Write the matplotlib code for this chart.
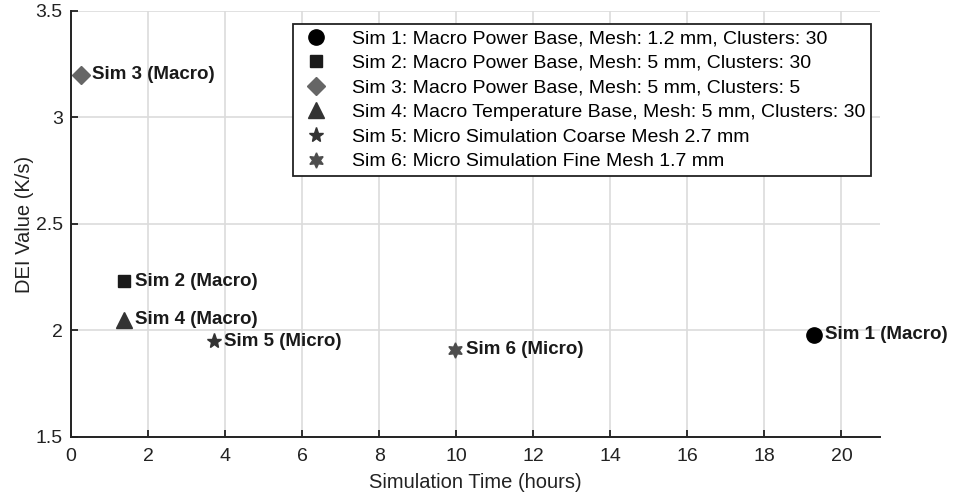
import matplotlib
matplotlib.use("Agg")
import matplotlib.pyplot as plt

# simulation results
sim_names = ["Sim 1", "Sim 2", "Sim 3", "Sim 4", "Sim 5", "Sim 6"]
sim_kind = ["Macro", "Macro", "Macro", "Macro", "Micro", "Micro"]
sim_time = [19.3, 1.38, 0.27, 1.38, 3.7, 9.97]
dei_value = [1.98, 2.23, 3.2, 2.05, 1.95, 1.91]
legend_text = [
    "Sim 1: Macro Power Base, Mesh: 1.2 mm, Clusters: 30",
    "Sim 2: Macro Power Base, Mesh: 5 mm, Clusters: 30",
    "Sim 3: Macro Power Base, Mesh: 5 mm, Clusters: 5",
    "Sim 4: Macro Temperature Base, Mesh: 5 mm, Clusters: 30",
    "Sim 5: Micro Simulation Coarse Mesh 2.7 mm",
    "Sim 6: Micro Simulation Fine Mesh 1.7 mm",
]

markers = ["o", "s", "D", "^", "*", (6, 1, 0)]
colors = ["#000000", "#1a1a1a", "#666666", "#333333", "#333333", "#4d4d4d"]
sizes = [11, 9, 9, 11, 11, 11]

plt.rcParams['font.family'] = ['Liberation Sans', 'DejaVu Sans']

fig = plt.figure(figsize=(9.57, 4.96), dpi=100)
ax = fig.add_axes([0.0742, 0.119, 0.8453, 0.859])

for i in range(len(sim_names)):
    ax.plot(sim_time[i], dei_value[i], linestyle="none", marker=markers[i],
            color=colors[i], markersize=sizes[i], label=legend_text[i], zorder=3)
    ax.text(sim_time[i] + 0.28, dei_value[i], f"{sim_names[i]} ({sim_kind[i]})",
            fontsize=13.5, fontweight="bold", va="center", ha="left", color="#1a1a1a")

ax.set_xlim(0, 21)
ax.set_ylim(1.5, 3.5)
ax.set_xticks(range(0, 21, 2))
ax.set_yticks([1.5, 2, 2.5, 3, 3.5])
ax.set_yticklabels(["1.5", "2", "2.5", "3", "3.5"])
ax.grid(True, color="#dcdcdc", linewidth=1.2)
ax.set_axisbelow(True)
for s in ["top", "right"]:
    ax.spines[s].set_visible(False)
for s in ["left", "bottom"]:
    ax.spines[s].set_linewidth(1.4)
    ax.spines[s].set_color("#222222")
ax.tick_params(direction="in", length=5, width=1.3, labelsize=14, colors="#222222")
ax.tick_params(axis="x", pad=8)
ax.tick_params(axis="y", pad=6)
ax.set_xlabel("Simulation Time (hours)", fontsize=14.5, color="#222222", labelpad=6)
ax.set_ylabel("DEI Value (K/s)", fontsize=14.5, color="#222222", labelpad=1)

leg = ax.legend(loc="upper left", bbox_to_anchor=(0.275, 0.9695), fontsize=14,
                frameon=True, fancybox=False, edgecolor="#222222", borderpad=0.3,
                handlelength=1.7, handletextpad=1.0, labelspacing=0.36, borderaxespad=0)
leg.get_frame().set_linewidth(1.3)
leg.get_frame().set_alpha(1)

fig.savefig("out.png", dpi=100)
